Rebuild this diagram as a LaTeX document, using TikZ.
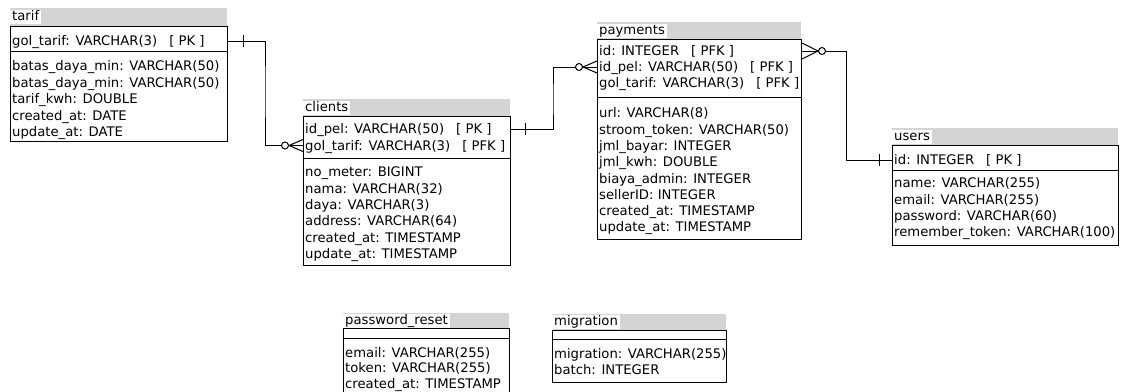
\documentclass[tikz,border=0pt]{standalone}
\usepackage{fontspec}
\newfontfamily\erfont{DejaVu Sans}
\usetikzlibrary{calc}
\definecolor{hdrgray}{RGB}{212,212,212}
\newcommand{\ergap}{\hspace{12pt}}
\begin{document}
\begin{tikzpicture}[x=1pt,y=-1pt,
  tbl/.style={draw,line width=1pt,anchor=north west,inner sep=0pt},
  hdrbar/.style={fill=hdrgray},
  ttl/.style={anchor=west,fill=white,inner xsep=2pt,inner ysep=0pt,minimum height=14pt,text height=9.6pt,text depth=2.5pt,font=\erfont\fontsize{13.2}{16}\selectfont},
  row/.style={anchor=west,inner sep=0pt,text height=9.6pt,text depth=0pt,font=\erfont\fontsize{13.2}{16}\selectfont},
  conn/.style={line width=1pt},
  sepline/.style={line width=1pt},
  ringend/.style={line width=1pt,fill=white}]
\useasboundingbox (0,0) rectangle (1126,391);

% ---------- tarif ----------
\fill[hdrbar] (10,8) rectangle (227,26);
\node[ttl] (tarif-t) at (10,17) {tarif};
\node[tbl,minimum width=217pt,minimum height=115pt] (tarif) at (10,26) {};
\draw[sepline] (10,51) -- (227,51);
\node[row] (tarif-r1) at (12,41) {gol\_tarif: VARCHAR(3)\ergap[ PK ]};
\foreach \t [count=\i] in {{batas\_daya\_min: VARCHAR(50)},{batas\_daya\_min: VARCHAR(50)},{tarif\_kwh: DOUBLE},{created\_at: DATE},{update\_at: DATE}}
  \node[row] (tarif-a\i) at (12,{66+(\i-1)*16.5}) {\t};

% ---------- clients ----------
\fill[hdrbar] (303,99) rectangle (510,116);
\node[ttl] (clients-t) at (303,107.5) {clients};
\node[tbl,minimum width=207pt,minimum height=149pt] (clients) at (303,116) {};
\draw[sepline] (303,158) -- (510,158);
\node[row] (clients-r1) at (305,129) {id\_pel: VARCHAR(50)\ergap[ PK ]};
\node[row] (clients-r2) at (305,145.5) {gol\_tarif: VARCHAR(3)\ergap[ PFK ]};
\foreach \t [count=\i] in {{no\_meter: BIGINT},{nama: VARCHAR(32)},{daya: VARCHAR(3)},{address: VARCHAR(64)},{created\_at: TIMESTAMP},{update\_at: TIMESTAMP}}
  \node[row] (clients-a\i) at (305,{172+(\i-1)*16.3}) {\t};

% ---------- payments ----------
\fill[hdrbar] (597,22) rectangle (801,39);
\node[ttl] (pay-t) at (597,30.5) {payments};
\node[tbl,minimum width=204pt,minimum height=200pt] (payments) at (597,39) {};
\draw[sepline] (597,97) -- (801,97);
\node[row] (pay-r1) at (599,51) {id: INTEGER\ergap[ PFK ]};
\node[row] (pay-r2) at (599,67) {id\_pel: VARCHAR(50)\ergap[ PFK ]};
\node[row] (pay-r3) at (599,83) {gol\_tarif: VARCHAR(3)\ergap[ PFK ]};
\foreach \t [count=\i] in {{url: VARCHAR(8)},{stroom\_token: VARCHAR(50)},{jml\_bayar: INTEGER},{jml\_kwh: DOUBLE},{biaya\_admin: INTEGER},{sellerID: INTEGER},{created\_at: TIMESTAMP},{update\_at: TIMESTAMP}}
  \node[row] (pay-a\i) at (599,{113+(\i-1)*16.3}) {\t};

% ---------- users ----------
\fill[hdrbar] (892,128) rectangle (1118,145);
\node[ttl] (users-t) at (892,136.5) {users};
\node[tbl,minimum width=226pt,minimum height=100pt] (users) at (892,145) {};
\draw[sepline] (892,170) -- (1118,170);
\node[row] (users-r1) at (894,160) {id: INTEGER\ergap[ PK ]};
\foreach \t [count=\i] in {{name: VARCHAR(255)},{email: VARCHAR(255)},{password: VARCHAR(60)},{remember\_token: VARCHAR(100)}}
  \node[row] (users-a\i) at (894,{183+(\i-1)*16.3}) {\t};

% ---------- password_reset ----------
\fill[hdrbar] (343,313) rectangle (509,328);
\node[ttl] (pr-t) at (343,320.5) {password\_reset};
\node[tbl,minimum width=166pt,minimum height=75pt] (pr) at (343,328) {};
\draw[sepline] (343,338) -- (509,338);
\foreach \t [count=\i] in {{email: VARCHAR(255)},{token: VARCHAR(255)},{created\_at: TIMESTAMP}}
  \node[row] (pr-a\i) at (345,{352.5+(\i-1)*15.5}) {\t};

% ---------- migration ----------
\fill[hdrbar] (552,314) rectangle (726,330);
\node[ttl] (mig-t) at (552,322) {migration};
\node[tbl,minimum width=174pt,minimum height=52pt] (mig) at (552,330) {};
\draw[sepline] (552,339) -- (726,339);
\foreach \t [count=\i] in {{migration: VARCHAR(255)},{batch: INTEGER}}
  \node[row] (mig-a\i) at (554,{354+(\i-1)*16}) {\t};

% ---------- connectors ----------
\coordinate (k1) at (265,90);
\coordinate (k2) at (553,100);
\coordinate (k3) at (846,100);
\coordinate (e1) at (clients.west |- clients-r2);
\coordinate (e2) at (payments.west |- pay-r2);
\coordinate (e3) at (payments.east |- pay-r1);

% tarif -> clients
\draw[conn] (tarif.east |- tarif-r1) -| (k1) |- (e1);
\draw[conn] ($(tarif.east |- tarif-r1)+(15,-6)$) -- ++(0,12);
\draw[ringend] ($(e1)+(-18,0)$) circle[radius=3.5pt];
\draw[conn] ($(e1)+(0,-6)$) -- ($(e1)+(-14,0)$) -- ($(e1)+(0,6)$);

% clients -> payments
\draw[conn] (clients.east |- clients-r1) -| (k2) |- (e2);
\draw[conn] ($(clients.east |- clients-r1)+(14,-6)$) -- ++(0,12);
\draw[ringend] ($(e2)+(-18,0)$) circle[radius=3.5pt];
\draw[conn] ($(e2)+(0,-6)$) -- ($(e2)+(-14,0)$) -- ($(e2)+(0,6)$);

% payments -> users
\draw[conn] (e3) -| (k3) |- (users.west |- users-r1);
\draw[ringend] ($(e3)+(20,0)$) circle[radius=3.5pt];
\draw[conn] ($(e3)+(0,-8)$) -- ($(e3)+(16,0)$) -- ($(e3)+(0,8)$);
\draw[conn] ($(users.west |- users-r1)+(-13,-6)$) -- ++(0,12);
\end{tikzpicture}
\end{document}
